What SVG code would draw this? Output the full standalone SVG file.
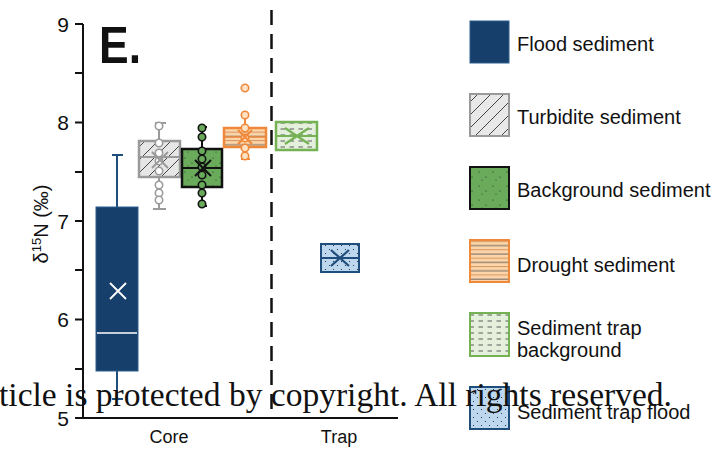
<svg xmlns="http://www.w3.org/2000/svg" width="719" height="452" viewBox="0 0 719 452">
<style>
.sans{font-family:"Liberation Sans",Arial,sans-serif;fill:#111}
.tick{font-size:21px;text-anchor:end}
.leg{font-size:20px}
.ax{stroke:#111;stroke-width:2;fill:none}
.wg{stroke:#9a9a9a;stroke-width:2;fill:none}
.cg{fill:#fff;stroke:#9a9a9a;stroke-width:1.6}
.wk{stroke:#111;stroke-width:2;fill:none}
.ck{fill:#6aab5b;stroke:#111;stroke-width:1.6}
.wo{stroke:#f0883a;stroke-width:2;fill:none}
.co{fill:#fde2c4;stroke:#f0883a;stroke-width:1.6}
</style>
<defs>
<pattern id="diag" patternUnits="userSpaceOnUse" width="13" height="13">
<path d="M0,13 L13,0 M-3,3 L3,-3 M10,16 L16,10" stroke="#333" stroke-width="0.9"/>
</pattern>
<pattern id="dots" patternUnits="userSpaceOnUse" width="14" height="14">
<circle cx="3" cy="4" r="0.6" fill="#222"/><circle cx="10" cy="9" r="0.6" fill="#222"/><circle cx="6" cy="12" r="0.5" fill="#222"/>
</pattern>
<pattern id="stripes" patternUnits="userSpaceOnUse" width="8" height="8.4">
<path d="M0,2 H8" stroke="#555" stroke-width="0.9"/><path d="M0,6.2 H8" stroke="#c98a55" stroke-width="0.9"/>
</pattern>
<pattern id="dash" patternUnits="userSpaceOnUse" width="9" height="6">
<path d="M1.5,3 H6" stroke="#333" stroke-width="0.8"/>
</pattern>
<pattern id="fdots" patternUnits="userSpaceOnUse" width="8" height="8">
<circle cx="1.5" cy="1.5" r="0.6" fill="#1a2a3a"/><circle cx="5.5" cy="5.5" r="0.6" fill="#1a2a3a"/>
</pattern>
</defs>
<rect width="719" height="452" fill="#fff"/>

<g id="axes">
<path class="ax" d="M83,24 V418 H398"/>
<path class="ax" d="M75,24 H83 M75,73 H83 M75,122.5 H83 M75,172 H83 M75,221 H83 M75,270 H83 M75,319.5 H83 M75,369 H83 M75,418 H83"/>
<g class="sans tick">
<text x="69" y="31.5">9</text>
<text x="69" y="130">8</text>
<text x="69" y="228.5">7</text>
<text x="69" y="327">6</text>
<text x="69" y="425.5">5</text>
</g>
<text class="sans" font-size="18" x="169" y="443" text-anchor="middle">Core</text>
<text class="sans" font-size="18" x="339" y="443" text-anchor="middle">Trap</text>
<text class="sans" font-size="20" transform="translate(48,224) rotate(-90)" text-anchor="middle">δ<tspan font-size="13" dy="-7">15</tspan><tspan dy="7">N (‰)</tspan></text>
<path d="M271.5,10 V418" stroke="#111" stroke-width="2.5" stroke-dasharray="15 9"/>
<text class="sans" x="99" y="63" font-size="52" font-weight="bold" textLength="42" lengthAdjust="spacingAndGlyphs">E.</text>
</g>

<g id="flood-box">
<path d="M117,155 V207 M117,371 V399 M112,155 H123 M112,399 H123" stroke="#1f4e7d" stroke-width="2" fill="none"/>
<rect x="96" y="207" width="42" height="164" fill="#173f6b" stroke="#2e5f8f" stroke-width="1"/>
<path d="M97,333 H137" stroke="#fff" stroke-width="1.6"/>
<path d="M110,283 L126,299 M126,283 L110,299" stroke="#fff" stroke-width="1.8"/>
</g>

<g id="turbidite-box">
<path class="wg" d="M159,123 V141 M159,177 V209 M155,123 H166 M153,209 H166"/>
<rect x="139" y="141" width="41" height="36" fill="#e6e6e6"/>
<rect x="139" y="141" width="41" height="36" fill="url(#diag)" stroke="#9a9a9a" stroke-width="2.5"/>
<path d="M139,157 H180" stroke="#9a9a9a" stroke-width="2"/>
<g>
<circle class="cg" cx="159" cy="126" r="3.7"/><circle class="cg" cx="159" cy="143" r="3.7"/>
<circle class="cg" cx="159" cy="153" r="3.7"/><circle class="cg" cx="159" cy="161" r="3.7"/>
<circle class="cg" cx="159" cy="171" r="3.7"/><circle class="cg" cx="159" cy="185" r="3.7"/>
<circle class="cg" cx="159" cy="193" r="3.7"/><circle class="cg" cx="159" cy="200" r="3.7"/>
</g>
<path d="M152,152 L168,168 M168,152 L152,168" stroke="#9a9a9a" stroke-width="2"/>
</g>

<g id="background-box">
<path class="wk" d="M202,127 V149 M202,187 V206 M199,127 H207 M199,206 H207"/>
<rect x="182" y="149" width="40" height="38" fill="#6aab5b"/>
<rect x="182" y="149" width="40" height="38" fill="url(#dots)" stroke="#111" stroke-width="2.5"/>
<path d="M182,168 H222" stroke="#111" stroke-width="2"/>
<g>
<circle class="ck" cx="202" cy="128" r="3.7"/><circle class="ck" cx="202" cy="137" r="3.7"/>
<circle class="ck" cx="202" cy="151" r="3.7"/><circle class="ck" cx="202" cy="159" r="3.7"/>
<circle class="ck" cx="202" cy="167" r="3.7"/><circle class="ck" cx="202" cy="175" r="3.7"/>
<circle class="ck" cx="202" cy="185" r="3.7"/><circle class="ck" cx="202" cy="193" r="3.7"/>
<circle class="ck" cx="202" cy="204" r="3.7"/>
</g>
<path d="M195,160 L211,176 M211,160 L195,176" stroke="#111" stroke-width="2"/>
</g>

<g id="drought-box">
<path class="wo" d="M245,115 V128 M245,147 V159 M241,159 H250"/>
<rect x="224" y="128" width="42" height="19" fill="#fdd5a8"/>
<rect x="224" y="128" width="42" height="19" fill="url(#stripes)" stroke="#f0883a" stroke-width="2.5"/>
<path d="M224,137 H266" stroke="#f0883a" stroke-width="1.5"/>
<g>
<circle class="co" cx="245" cy="88" r="3.7"/><circle class="co" cx="245" cy="115" r="3.7"/>
<circle class="co" cx="245" cy="128" r="3.7"/><circle class="co" cx="245" cy="138" r="3.7"/>
<circle class="co" cx="245" cy="148" r="3.7"/><circle class="co" cx="245" cy="156" r="3.7"/>
</g>
<path d="M238,130 L252,144 M252,130 L238,144" stroke="#f0883a" stroke-width="2"/>
</g>

<g id="trap-background-box">
<rect x="276" y="122" width="41" height="28" fill="#e4f0dc"/>
<rect x="276" y="122" width="41" height="28" fill="url(#dash)" stroke="#74b254" stroke-width="2.5"/>
<path d="M276,136 H317" stroke="#74b254" stroke-width="2"/>
<path d="M285,128 L309,144 M309,128 L285,144" stroke="#74b254" stroke-width="2.2"/>
</g>

<g id="trap-flood-box">
<rect x="321" y="244" width="38" height="28" fill="#bdd7ef"/>
<rect x="321" y="244" width="38" height="28" fill="url(#fdots)" stroke="#1f4e7d" stroke-width="2"/>
<path d="M321,258 H359" stroke="#1f4e7d" stroke-width="2"/>
<path d="M331,250 L349,266 M349,250 L331,266" stroke="#1f4e7d" stroke-width="2.2"/>
</g>

<g id="legend-flood">
<rect x="470" y="21" width="39" height="42" fill="#173f6b" stroke="#2e5f8f" stroke-width="1"/>
<text class="sans leg" x="517" y="51">Flood sediment</text>
</g>
<g id="legend-turbidite">
<rect x="470" y="94" width="39" height="42" fill="#e8e8e8"/>
<rect x="470" y="94" width="39" height="42" fill="url(#diag)" stroke="#9a9a9a" stroke-width="2"/>
<text class="sans leg" x="517" y="124">Turbidite sediment</text>
</g>
<g id="legend-background">
<rect x="470" y="167" width="39" height="42" fill="#6aab5b"/>
<rect x="470" y="167" width="39" height="42" fill="url(#dots)" stroke="#111" stroke-width="2"/>
<text class="sans leg" x="517" y="197">Background sediment</text>
</g>
<g id="legend-drought">
<rect x="470" y="240" width="39" height="42" fill="#fdd5a8"/>
<rect x="470" y="240" width="39" height="42" fill="url(#stripes)" stroke="#f0883a" stroke-width="2"/>
<text class="sans leg" x="517" y="272">Drought sediment</text>
</g>
<g id="legend-trap-background">
<rect x="470" y="313" width="39" height="43" fill="#e4f0dc"/>
<rect x="470" y="313" width="39" height="43" fill="url(#dash)" stroke="#74b254" stroke-width="2"/>
<text class="sans leg" x="517" y="335">Sediment trap</text>
<text class="sans leg" x="517" y="357">background</text>
</g>
<g id="legend-trap-flood">
<rect x="470" y="387" width="39" height="42" fill="#bdd7ef"/>
<rect x="470" y="387" width="39" height="42" fill="url(#fdots)" stroke="#1f4e7d" stroke-width="2"/>
<text class="sans leg" x="517" y="419">Sediment trap flood</text>
</g>

<text x="-1" y="406" font-family="'Liberation Serif','Times New Roman',serif" font-size="33" fill="#111" textLength="673" lengthAdjust="spacingAndGlyphs">ticle is protected by copyright. All rights reserved.</text>
</svg>
